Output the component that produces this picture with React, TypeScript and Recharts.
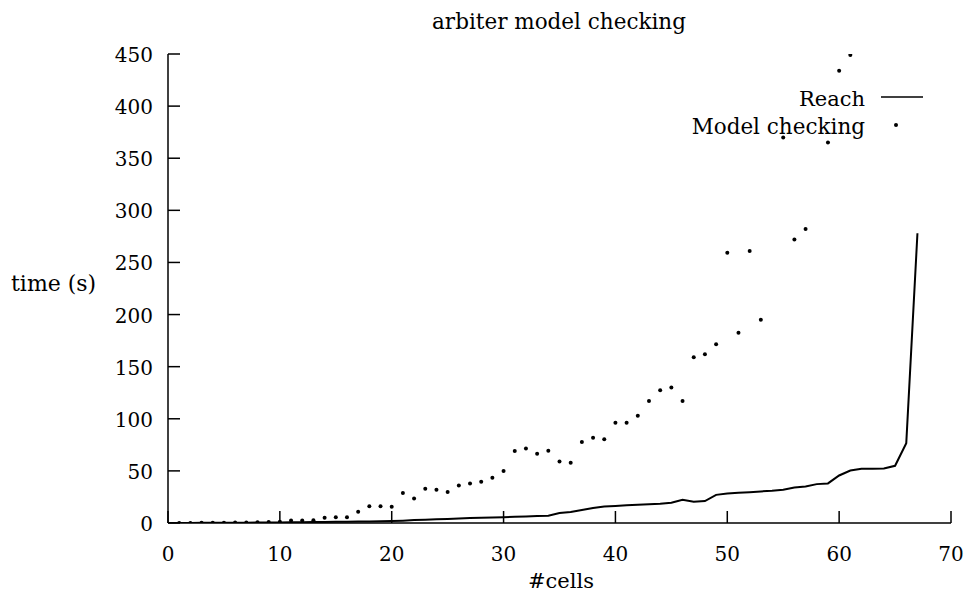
import React from 'react';
import { LineChart, Line, XAxis, YAxis } from 'recharts';

const cells = [0,1,2,3,4,5,6,7,8,9,10,11,12,13,14,15,16,17,18,19,20,21,22,23,24,25,26,27,28,29,30,31,32,33,34,35,36,37,38,39,40,41,42,43,44,45,46,47,48,49,50,51,52,53,54,55,56,57,58,59,60,61,62,63,64,65,66,67];
const reach = [0.1,0.1,0.1,0.2,0.2,0.2,0.3,0.3,0.4,0.5,0.6,0.7,0.8,0.9,1.0,1.1,1.2,1.4,1.5,1.6,1.8,2.2,2.8,3.2,3.6,3.9,4.3,4.7,5.0,5.3,5.6,6.0,6.3,6.7,7.0,9.6,10.5,12.5,14.4,15.8,16.3,17,17.4,17.9,18.5,19.5,22.3,20.4,21,27,28.2,29,29.6,30.3,31,32,34,35,37.3,38,45.6,50.4,52,52,52.3,54.9,76.6,278];
const modelChecking: (number | null)[] = [null,0.1,0.1,0.2,0.2,0.3,0.4,0.5,0.7,0.9,1.2,2.5,2.5,2.7,5,5.5,5.5,10.8,16,16,15.5,28.7,23.5,32.8,31.8,29.7,36,38,39.6,43.4,50,69,71.6,66.4,69.3,59,57.7,77.6,81.7,80.4,96.3,96.3,103,117,127.4,129.9,117,159,162,171.5,259.3,182.6,260.9,195,null,370,272,282,null,365,434,449,null,null,null,null,null,null];
const xTicks = [0,10,20,30,40,50,60,70];
const yTicks = [0,50,100,150,200,250,300,350,400,450];

const data = cells.map((c, i) => ({ cells: c, reach: reach[i], mc: modelChecking[i] }));

const FONT = '"DejaVu Serif", serif';
const TICK_LEN = 12;

const LeftTick = (props: any) => {
  const { x, y, payload } = props;
  return (
    <g>
      <line x1={x + 15} y1={y} x2={x + 15 + TICK_LEN} y2={y} stroke="#000" strokeWidth={1.5} />
      <text x={x} y={y} dy={1} textAnchor="end" dominantBaseline="central" fontFamily={FONT} fontSize={20} fill="#000">{payload.value}</text>
    </g>
  );
};
const BottomTick = (props: any) => {
  const { x, y, payload } = props;
  return (
    <g>
      <line x1={x} y1={y - 24} x2={x} y2={y - 24 - TICK_LEN} stroke="#000" strokeWidth={1.5} />
      <text x={x} y={y} dy="0.71em" textAnchor="middle" fontFamily={FONT} fontSize={20} fill="#000">{payload.value}</text>
    </g>
  );
};
const TopTick = (props: any) => {
  const { x, y } = props;
  return <line x1={x} y1={y} x2={x} y2={y + TICK_LEN} stroke="#000" strokeWidth={1.5} />;
};
const RightTick = (props: any) => {
  const { x, y } = props;
  return <line x1={x} y1={y} x2={x - TICK_LEN} y2={y} stroke="#000" strokeWidth={1.5} />;
};

const textStyle: React.CSSProperties = { position: 'absolute', fontFamily: FONT, color: '#000', whiteSpace: 'nowrap', zIndex: 10 };

export default function App() {
  return (
    <div style={{ position: 'absolute', left: 0, top: 0, width: 965, height: 593, overflow: 'hidden', background: '#fff' }}>
      <LineChart width={965} height={593} data={data} margin={{ top: 54, right: 14, bottom: 0, left: 0 }}>
        <XAxis dataKey="cells" type="number" domain={[0, 70]} ticks={xTicks} height={70} tickSize={0} tickLine={false} tickMargin={24} tick={<BottomTick />} axisLine={{ stroke: '#000', strokeWidth: 1.5 }} />
        <XAxis xAxisId="top" orientation="top" type="number" domain={[0, 70]} ticks={xTicks} height={0} tickSize={0} tickLine={false} tickMargin={0} tick={<TopTick />} axisLine={{ stroke: '#000', strokeWidth: 1.5 }} allowDataOverflow />
        <YAxis type="number" domain={[0, 450]} ticks={yTicks} width={168} tickSize={0} tickLine={false} tickMargin={15} tick={<LeftTick />} axisLine={{ stroke: '#000', strokeWidth: 1.5 }} allowDataOverflow />
        <YAxis yAxisId="right" orientation="right" type="number" domain={[0, 450]} ticks={yTicks} width={0} tickSize={0} tickLine={false} tickMargin={0} tick={<RightTick />} axisLine={{ stroke: '#000', strokeWidth: 1.5 }} allowDataOverflow />
        <Line dataKey="reach" type="linear" stroke="#000" strokeWidth={2} dot={false} isAnimationActive={false} />
        <Line dataKey="mc" type="linear" stroke="none" strokeWidth={0} dot={{ r: 2, fill: '#000', stroke: 'none' }} activeDot={false} isAnimationActive={false} />
      </LineChart>
      <div style={{ ...textStyle, left: 0, width: 1118, top: 10, textAlign: 'center', fontSize: 21.5, lineHeight: '24px' }}>
        arbiter model checking
      </div>
      <div style={{ ...textStyle, left: 11, top: 271, fontSize: 22, lineHeight: '26px' }}>
        time (s)
      </div>
      <div style={{ ...textStyle, left: 0, width: 1122, top: 568, textAlign: 'center', fontSize: 21, lineHeight: '26px' }}>
        #cells
      </div>
      <div style={{ ...textStyle, left: 605, top: 85, width: 260, fontSize: 21, lineHeight: '28px', textAlign: 'right' }}>
        Reach
      </div>
      <svg style={{ position: 'absolute', left: 875, top: 90, zIndex: 10 }} width={60} height={50}>
        <line x1={6} y1={7} x2={48} y2={7} stroke="#000" strokeWidth={1.5} />
        <circle cx={21} cy={35} r={2} fill="#000" />
      </svg>
      <div style={{ ...textStyle, left: 605, top: 113, width: 260, fontSize: 21.5, lineHeight: '28px', textAlign: 'right' }}>
        Model checking
      </div>
    </div>
  );
}
